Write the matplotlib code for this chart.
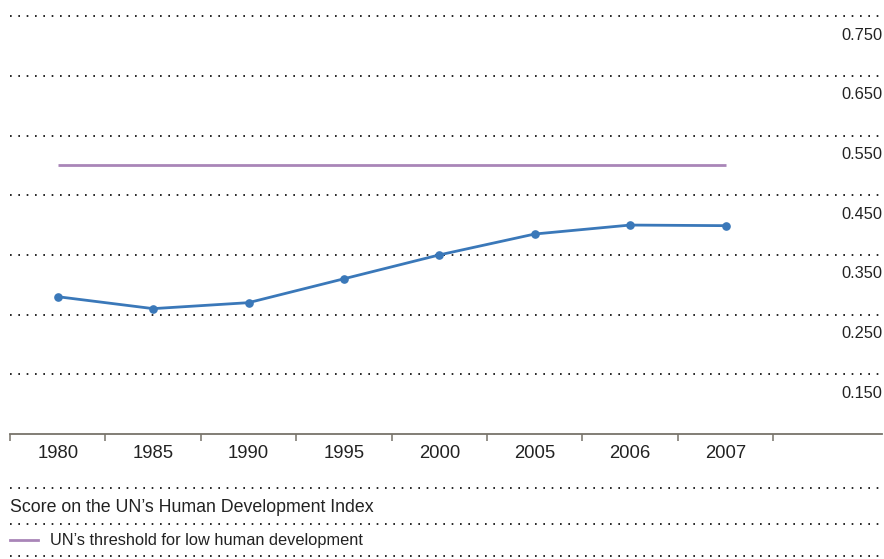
"""
UN Human Development Index score vs. low-development threshold, 1980-2007.
"""

import numpy as np
import matplotlib.pyplot as plt
from matplotlib.lines import Line2D

plt.rcParams['font.family'] = ['Liberation Sans', 'DejaVu Sans']

# Data
years = ["1980", "1985", "1990", "1995", "2000", "2005", "2006", "2007"]
hdi_score = [0.280, 0.260, 0.270, 0.310, 0.350, 0.385, 0.400, 0.399]
threshold = [0.500, 0.500, 0.500, 0.500, 0.500, 0.500, 0.500, 0.500]
y_ticks = [0.150, 0.250, 0.350, 0.450, 0.550, 0.650, 0.750]

blue = "#3a78b9"
purple = "#a985b8"
axis_col = "#77736a"
dotted = (0, (1, 4))

fig = plt.figure(figsize=(8.84, 5.59), dpi=100)
W, H = 884, 559
ax = fig.add_axes([10 / W, (H - 434) / H, 872 / W, 434 / H])

x = np.arange(len(years))
ax.set_xlim(-0.5, 8.64)
ax.set_ylim(0.05, 0.777)

# dotted gridlines with labels sitting below them on the right
for v in y_ticks:
    ax.axhline(v, color="black", lw=1.2, ls=dotted, clip_on=False)
    ax.annotate(f"{v:.3f}", xy=(1, v), xycoords=("axes fraction", "data"),
                xytext=(0, -19), textcoords="offset pixels",
                ha="right", va="center", fontsize=11.8, color="#222222")

ax.plot(x, threshold, color=purple, lw=2.0, solid_capstyle="butt")
ax.plot(x, hdi_score, color=blue, lw=2.0, marker="o", markersize=5.2)

# category axis: boundaries as ticks, labels in between
for s in ["top", "right", "left"]:
    ax.spines[s].set_visible(False)
ax.spines["bottom"].set_color(axis_col)
ax.spines["bottom"].set_linewidth(1.3)
ax.set_yticks([])
ax.set_xticks(np.arange(-0.5, len(years)), minor=False)
ax.set_xticklabels([])
ax.tick_params(axis="x", direction="out", length=5, width=1.1, color=axis_col)
for i, yr in enumerate(years):
    ax.annotate(yr, xy=(i, 0), xycoords=("data", "axes fraction"),
                xytext=(0, -20), textcoords="offset pixels",
                ha="center", va="center", fontsize=13.3, color="#222222")

# legend block
for yp in [488, 524, 556]:
    fig.add_artist(Line2D([10 / W, 882 / W], [1 - yp / H] * 2, color="black",
                          lw=1.2, ls=dotted))
fig.text(10 / W, 1 - 507 / H, "Score on the UN\u2019s Human Development Index",
         ha="left", va="center", fontsize=12.8, color="#222222")
fig.add_artist(Line2D([10 / W, 38 / W], [1 - 540 / H] * 2, color=purple, lw=2.0))
fig.text(50 / W, 1 - 540 / H, "UN\u2019s threshold for low human development",
         ha="left", va="center", fontsize=11.8, color="#222222")

fig.savefig("out.png", dpi=100)
